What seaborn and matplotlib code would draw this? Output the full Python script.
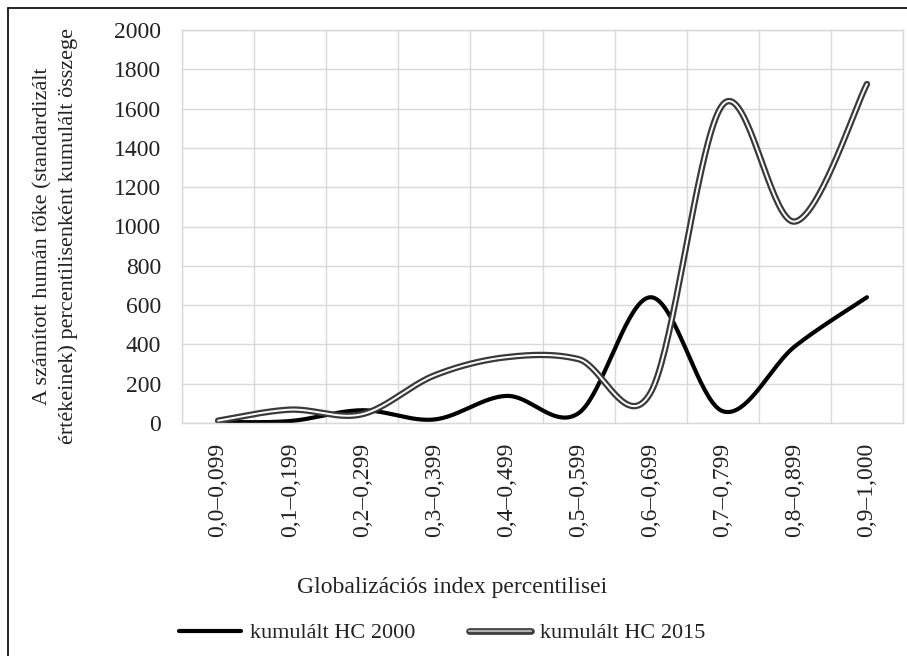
import numpy as np
import pandas as pd
import matplotlib
matplotlib.use("Agg")
import matplotlib.pyplot as plt
import matplotlib.patheffects as pe
from matplotlib.lines import Line2D
import seaborn as sns

categories = ["0,0–0,099", "0,1–0,199", "0,2–0,299", "0,3–0,399", "0,4–0,499",
              "0,5–0,599", "0,6–0,699", "0,7–0,799", "0,8–0,899", "0,9–1,000"]
hc2000 = [5, 10, 65, 18, 138, 50, 640, 60, 390, 640]
hc2015 = [12, 68, 45, 242, 335, 325, 155, 1620, 1025, 1725]
series_names = ["kumulált HC 2000", "kumulált HC 2015"]
y_ticks = [0, 200, 400, 600, 800, 1000, 1200, 1400, 1600, 1800, 2000]


def excel_smooth(values, n=40):
    """Excel-style smoothed line (Bezier through the points)."""
    P = np.column_stack([np.arange(len(values), dtype=float), np.asarray(values, float)])
    E = np.vstack([P[0], P, P[-1]])
    out = []
    for i in range(len(P) - 1):
        p0, p1, p2, p3 = E[i], E[i + 1], E[i + 2], E[i + 3]
        c1 = p1 + (p2 - p0) / 6.0
        c2 = p2 - (p3 - p1) / 6.0
        t = np.linspace(0, 1, n, endpoint=(i == len(P) - 2))[:, None]
        out.append((1 - t) ** 3 * p1 + 3 * (1 - t) ** 2 * t * c1 + 3 * (1 - t) * t ** 2 * c2 + t ** 3 * p2)
    return np.vstack(out)


frames = []
for name, vals in zip(series_names, [hc2000, hc2015]):
    s = excel_smooth(vals)
    frames.append(pd.DataFrame({"x": s[:, 0], "y": s[:, 1], "series": name}))
df = pd.concat(frames, ignore_index=True)

sns.set_style("white")
plt.rcParams["font.family"] = ["Liberation Serif", "DejaVu Serif"]

W, H = 907, 656
fig = plt.figure(figsize=(W / 100, H / 100), dpi=100)
ax = fig.add_axes([182 / W, 1 - 423 / H, (903 - 182) / W, (423 - 30) / H])

sns.lineplot(data=df, x="x", y="y", hue="series", hue_order=series_names,
             palette=["black", "#3a3a3a"], estimator=None, sort=False,
             legend=False, ax=ax)

l2000, l2015 = ax.lines[0], ax.lines[1]
l2000.set_linewidth(3.0)
l2000.set_solid_capstyle("round")
l2015.set_color("white")
l2015.set_linewidth(1.4)
l2015.set_path_effects([pe.Stroke(linewidth=4.6, foreground="#3a3a3a", capstyle="round"), pe.Normal()])

ax.set_xlim(-0.5, 9.5)
ax.set_ylim(0, 2000)
ax.set_yticks(y_ticks)
ax.set_yticklabels([str(v) for v in y_ticks], fontsize=17)
ax.set_xticks(range(len(categories)))
ax.set_xticklabels(categories, rotation=90, fontsize=17)
ax.set_xticks(np.arange(-0.5, 10, 1), minor=True)
ax.tick_params(axis="both", which="both", length=0, colors="#222222")
ax.tick_params(axis="y", which="major", pad=15)
ax.tick_params(axis="x", which="major", pad=14)
ax.grid(False)
ax.grid(axis="y", which="major", color="#d9d9d9", linewidth=1)
ax.grid(axis="x", which="minor", color="#d9d9d9", linewidth=1)
ax.set_xlabel("")
ax.set_ylabel("")
for sp in ax.spines.values():
    sp.set_color("#d9d9d9")
    sp.set_linewidth(1)
ax.set_axisbelow(True)

fig.text(56 / W, 1 - 236 / H,
         "A számított humán tőke (standardizált\nértékeinek) percentilisenként kumulált összege",
         rotation=90, ha="center", va="center", multialignment="center",
         fontsize=16, linespacing=1.4, color="#222222")
fig.text(452 / W, 1 - 588 / H, "Globalizációs index percentilisei",
         ha="center", va="center", fontsize=17, color="#222222")

h1 = Line2D([], [], color="black", linewidth=3.0)
h2 = Line2D([], [], color="#b0b0b0", linewidth=1.6,
            path_effects=[pe.Stroke(linewidth=4.8, foreground="#3a3a3a"), pe.Normal()])
fig.legend([h1, h2], series_names, loc="center", bbox_to_anchor=(442 / W, 1 - 633 / H),
           ncol=2, frameon=False, fontsize=16, handlelength=2.8, columnspacing=2.4,
           handletextpad=0.4, labelcolor="#222222")

# outer chart frame (top and left edges visible)
fig.add_artist(Line2D([8 / W, 8 / W], [0, 1 - 8 / H], transform=fig.transFigure, color="black", lw=1.2))
fig.add_artist(Line2D([8 / W, 1], [1 - 8 / H, 1 - 8 / H], transform=fig.transFigure, color="black", lw=1.2))

fig.savefig("out.png", dpi=100)
